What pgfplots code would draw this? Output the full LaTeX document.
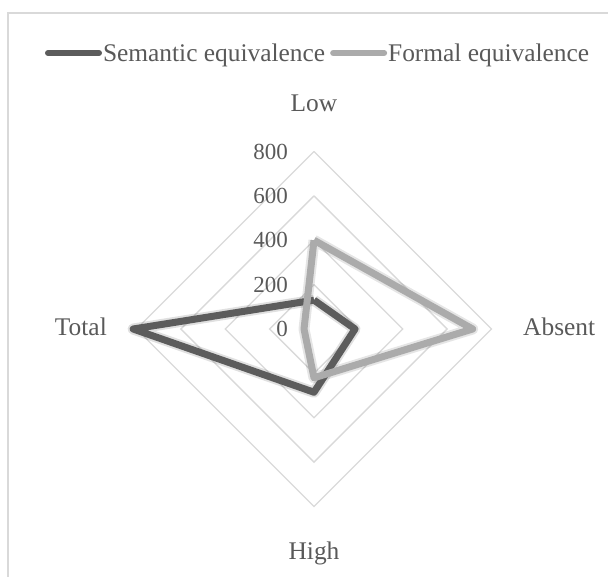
\documentclass[border=0pt]{standalone}
\usepackage{fontspec}
\setmainfont{Liberation Serif}
\usepackage{pgfplots}
\pgfplotsset{compat=1.18}
\definecolor{txt}{HTML}{595959}
\definecolor{gridc}{HTML}{D9D9D9}
\definecolor{semc}{HTML}{5C5C5C}
\definecolor{forc}{HTML}{ABABAB}
\begin{document}
\begin{tikzpicture}
\useasboundingbox (0bp,0bp) rectangle (608bp,-577bp);
\draw[gridc, line width=1.3bp] (8bp,-578bp) -- (8bp,-13bp) -- (609bp,-13bp);
\begin{axis}[
  at={(314bp,-329bp)}, anchor=center,
  hide axis, clip=false,
  x=0.2219bp, y=0.2219bp,
  xmin=-800, xmax=800, ymin=-800, ymax=800,
  legend columns=2,
  legend style={draw=none, fill=none, inner sep=0pt, outer sep=0pt,
    at={(-0.2577,1.2775)}, anchor=west,
    font=\fontsize{25.4bp}{30bp}\selectfont, text=txt,
    nodes={inner sep=0pt},
    /tikz/every odd column/.append style={column sep=1bp},
    /tikz/every even column/.append style={column sep=5bp}},
  legend image code/.code={\draw[#1, line width=6bp, line cap=round] (3bp,0bp) -- (54bp,0bp);},
]
% grid diamonds
\addplot[gridc, line width=1.3bp, forget plot] coordinates {(0,200) (200,0) (0,-200) (-200,0) (0,200)};
\addplot[gridc, line width=1.3bp, forget plot] coordinates {(0,400) (400,0) (0,-400) (-400,0) (0,400)};
\addplot[gridc, line width=1.3bp, forget plot] coordinates {(0,600) (600,0) (0,-600) (-600,0) (0,600)};
\addplot[gridc, line width=1.3bp, forget plot] coordinates {(0,800) (800,0) (0,-800) (-800,0) (0,800)};
% soft shadows
\addplot[black, opacity=0.12, line width=11bp, line join=round, forget plot] coordinates {(0,130) (185,0) (0,-285) (-815,0) (0,130)};
\addplot[black, opacity=0.10, line width=11bp, line join=round, forget plot] coordinates {(0,400) (715,0) (0,-220) (-45,0) (0,400)};
% Semantic equivalence: Low (top), Absent (right), High (bottom), Total (left)
\addplot[semc, line width=7bp, line join=round] coordinates {(0,130) (185,0) (0,-285) (-815,0) (0,130)};
\addlegendentry{Semantic equivalence}
% Formal equivalence
\addplot[forc, line width=7bp, line join=round] coordinates {(0,400) (715,0) (0,-220) (-45,0) (0,400)};
\addlegendentry{Formal equivalence}
% radial tick labels
\begin{scope}[every node/.style={anchor=east, text=txt, inner sep=0pt, font=\fontsize{23bp}{28bp}\selectfont}]
\node at (axis cs:-117,0) {0};
\node at (axis cs:-117,200) {200};
\node at (axis cs:-117,400) {400};
\node at (axis cs:-117,600) {600};
\node at (axis cs:-117,800) {800};
\end{scope}
% category labels
\begin{scope}[every node/.style={text=txt, inner sep=0pt, font=\fontsize{25.4bp}{30bp}\selectfont}]
\node[anchor=base] at (axis cs:0,978) {Low};
\node[anchor=base] at (axis cs:0,-1041) {High};
\node[anchor=base east] at (axis cs:-933,-31.5) {Total};
\node[anchor=base west] at (axis cs:942,-31.5) {Absent};
\end{scope}
\end{axis}
\end{tikzpicture}
\end{document}
